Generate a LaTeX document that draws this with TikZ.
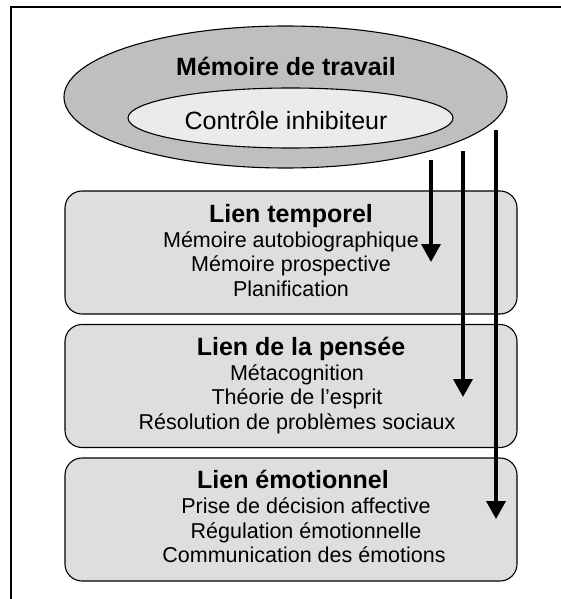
\documentclass[tikz,border=0pt]{standalone}
\usepackage{fontspec}
\setmainfont{Liberation Sans}
\usetikzlibrary{shapes.geometric}
\usetikzlibrary{arrows.meta}
\usetikzlibrary{positioning}
\definecolor{wmgray}{gray}{0.75}
\definecolor{cigray}{gray}{0.92}
\definecolor{boxgray}{gray}{0.87}

\begin{document}
\begin{tikzpicture}[x=1pt,y=-1pt,
    wm node/.style={ellipse,draw,line width=1.1pt,inner sep=0pt},
    link box/.style={rectangle,rounded corners=17pt,draw,line width=1.1pt,fill=boxgray,minimum width=452pt,minimum height=123pt,inner sep=0pt},
    title text/.style={font=\fontsize{25}{30}\selectfont\bfseries,anchor=base,inner sep=0pt},
    item text/.style={font=\fontsize{21.5}{25}\selectfont,anchor=base,inner sep=0pt},
    down arrow/.style={-{Triangle[width=19pt,length=18pt]},line width=3.6pt}]
  \useasboundingbox (0,0) rectangle (561,599);
  % frame
  \draw[line width=1.5pt] (11,599) -- (11,7) -- (561,7);

  % working memory
  \node[wm node,fill=wmgray,minimum width=443pt,minimum height=142pt] (wm) at (285.5,97) {};
  \node[wm node,fill=cigray,minimum width=325pt,minimum height=60pt] (ci) at (290.5,118) {};
  \node[title text] (wmt) at (286,76) {Mémoire de travail};
  \node[item text,font=\fontsize{25}{30}\selectfont] (cit) at (286,129) {Contrôle inhibiteur};

  % links
  \node[link box] (temp) at (291,252.5) {};
  \node[link box] (pens) at (291,386) {};
  \node[link box] (emo) at (291,519.5) {};

  \node[title text] (tempt) at (291,222) {Lien temporel};
  \node[item text] (temp1) at (291,247) {Mémoire autobiographique};
  \node[item text] (temp2) at (291,271.5) {Mémoire prospective};
  \node[item text] (temp3) at (291,296) {Planification};

  \node[title text] (penst) at (301,355) {Lien de la pensée};
  \node[item text] (pens1) at (297,380) {Métacognition};
  \node[item text] (pens2) at (297,404.5) {Théorie de l’esprit};
  \node[item text] (pens3) at (297,429) {Résolution de problèmes sociaux};

  \node[title text] (emot) at (293,488) {Lien émotionnel};
  \node[item text] (emo1) at (306,513) {Prise de décision affective};
  \node[item text] (emo2) at (306,538) {Régulation émotionnelle};
  \node[item text] (emo3) at (304,562) {Communication des émotions};

  % arrows
  \coordinate (a1) at (431,160);
  \coordinate (b1) at (431,262);
  \coordinate (a2) at (463,151);
  \coordinate (b2) at (463,397);
  \coordinate (a3) at (496,130);
  \coordinate (b3) at (496,519);
  \path[down arrow] (a1) edge (b1);
  \path[down arrow] (a2) edge (b2);
  \path[down arrow] (a3) edge (b3);
\end{tikzpicture}
\end{document}
